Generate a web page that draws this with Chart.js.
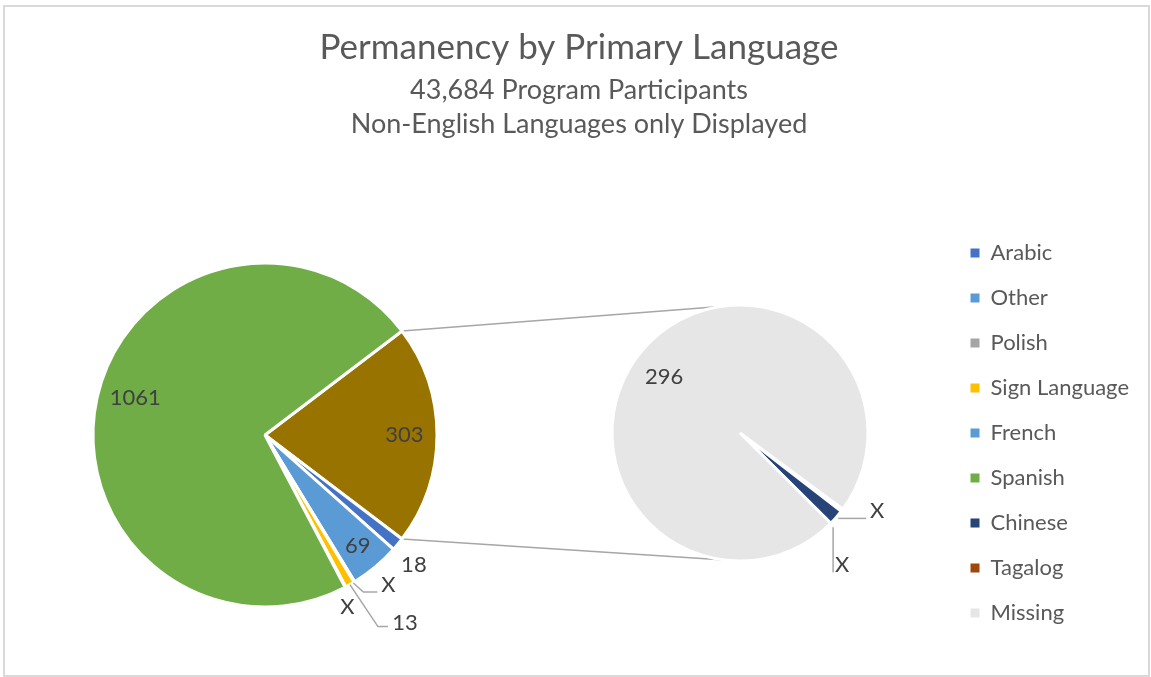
<!DOCTYPE html>
<html>
<head>
<meta charset="utf-8">
<title>Permanency by Primary Language</title>
<script src="https://cdn.jsdelivr.net/npm/chart.js@4.4.1/dist/chart.umd.min.js"></script>
<style>
  body { margin: 0; background: #fff; overflow: hidden; }
  #wrap { position: relative; width: 1151px; height: 677px; }
  #frame { position: absolute; left: 3px; top: 5px; width: 1147px; height: 672px; border: 2px solid #D9D9D9; box-sizing: border-box; }
  canvas { position: absolute; left: 0; top: 0; }
</style>
</head>
<body>
<div id="wrap">
  <div id="frame"></div>
  <canvas id="main" width="1151" height="677"></canvas>
  <canvas id="sub" width="1151" height="677"></canvas>
</div>
<script>
// Main pie, clockwise starting with the slice that gets split out into the second pie
const mainLabels = ['Other languages', 'Arabic', 'Other', 'Polish', 'Sign Language', 'French', 'Spanish'];
const mainValues = [303, 18, 69, 1, 13, 1, 1061];
const mainShown = ['303', '18', '69', 'X', '13', 'X', '1061'];   // X = suppressed small count

// Second pie: what the 303 slice is made of
const subLabels = ['Tagalog', 'Chinese', 'Missing'];
const subValues = [1, 6, 296];
const subShown = ['X', 'X', '296'];

const legendNames = ['Arabic', 'Other', 'Polish', 'Sign Language', 'French', 'Spanish', 'Chinese', 'Tagalog', 'Missing'];

const colors = {
  'Other languages': '#997300',
  'Arabic': '#4472C4',
  'Other': '#5B9BD5',
  'Polish': '#A5A5A5',
  'Sign Language': '#FFC000',
  'French': '#5B9BD5',
  'Spanish': '#70AD47',
  'Chinese': '#264478',
  'Tagalog': '#9E480E',
  'Missing': '#E6E6E6'
};

const FONT = 'Lato, "Open Sans", sans-serif';
const TEXT = '#595959';
const LINE = '#A6A6A6';

// pin the pie to a fixed spot on the canvas (overrides the chart area after layout)
const pinArea = {
  id: 'pinArea',
  afterLayout(chart, args, o) {
    Object.assign(chart.chartArea, {
      left: o.x - o.r, right: o.x + o.r, top: o.y - o.r, bottom: o.y + o.r,
      width: o.r * 2, height: o.r * 2
    });
  }
};

// data labels: inside the slice (at = fraction of radius), or off the rim with an optional leader line
function sliceLabels(text, place) {
  return {
    id: 'sliceLabels',
    afterDatasetsDraw(chart) {
      const ctx = chart.ctx;
      ctx.save();
      ctx.font = '22px ' + FONT;
      ctx.fillStyle = '#404040';
      ctx.textAlign = 'center';
      ctx.textBaseline = 'middle';
      ctx.strokeStyle = LINE;
      ctx.lineWidth = 1.5;
      chart.getDatasetMeta(0).data.forEach((arc, i) => {
        const p = place[i];
        const { x, y, startAngle, endAngle, outerRadius } = arc.getProps(['x', 'y', 'startAngle', 'endAngle', 'outerRadius'], true);
        const mid = (startAngle + endAngle) / 2;
        const f = p.at || 1;
        const bx = x + Math.cos(mid) * outerRadius * f;
        const by = y + Math.sin(mid) * outerRadius * f;
        if (p.leader) {
          ctx.beginPath();
          p.leader.forEach(([dx, dy], k) => k ? ctx.lineTo(bx + dx, by + dy) : ctx.moveTo(bx + dx, by + dy));
          ctx.stroke();
        }
        const off = p.off || [0, 0];
        ctx.fillText(text[i], bx + off[0], by + off[1]);
      });
      ctx.restore();
    }
  };
}

// second pie (made first so the main chart can find it)
const subChart = new Chart(document.getElementById('sub'), {
  type: 'pie',
  data: {
    labels: subLabels,
    datasets: [{
      data: subValues,
      backgroundColor: subLabels.map(n => colors[n]),
      borderColor: '#ffffff',
      borderWidth: 3
    }]
  },
  options: {
    responsive: false,
    animation: false,
    events: [],
    rotation: 126.5,
    layout: { padding: { top: 189, right: 12 } },
    plugins: {
      tooltip: { enabled: false },
      legend: {
        position: 'right',
        onClick: null,
        labels: {
          boxWidth: 9,
          boxHeight: 9,
          padding: 23,
          color: TEXT,
          font: { family: FONT, size: 22 },
          generateLabels: () => legendNames.map(n => ({
            text: n, fillStyle: colors[n], strokeStyle: colors[n], lineWidth: 0, hidden: false, fontColor: TEXT
          }))
        }
      },
      pinArea: { x: 740, y: 433, r: 129.5 }
    }
  },
  plugins: [pinArea, sliceLabels(subShown, [
    { leader: [[-9, 17], [-9, 62]], off: [0, 55] },
    { leader: [[2, 1], [30, 1]], off: [41, -6] },
    { at: 0.73, off: [-5, 5] }
  ])]
});

// lines from the split slice to the top and bottom of the second pie
const connectors = {
  id: 'connectors',
  beforeDatasetsDraw(chart) {
    const big = chart.getDatasetMeta(0).data[0];
    const small = subChart.getDatasetMeta(0).data[0];
    const r = big.outerRadius;
    const ctx = chart.ctx;
    ctx.save();
    ctx.strokeStyle = LINE;
    ctx.lineWidth = 1.5;
    ctx.beginPath();
    ctx.moveTo(big.x + Math.cos(big.startAngle) * r, big.y + Math.sin(big.startAngle) * r);
    ctx.lineTo(small.x, small.y - small.outerRadius);
    ctx.moveTo(big.x + Math.cos(big.endAngle) * r, big.y + Math.sin(big.endAngle) * r);
    ctx.lineTo(small.x, small.y + small.outerRadius);
    ctx.stroke();
    ctx.restore();
  }
};

new Chart(document.getElementById('main'), {
  type: 'pie',
  data: {
    labels: mainLabels,
    datasets: [{
      data: mainValues,
      backgroundColor: mainLabels.map(n => colors[n]),
      borderColor: '#ffffff',
      borderWidth: 3
    }]
  },
  options: {
    responsive: false,
    animation: false,
    events: [],
    rotation: 52.8,
    layout: { padding: { left: 7 } },
    plugins: {
      legend: { display: false },
      tooltip: { enabled: false },
      title: {
        display: true,
        text: 'Permanency by Primary Language',
        color: TEXT,
        font: { family: FONT, size: 35, weight: 'normal', lineHeight: 1 },
        padding: { top: 30, bottom: 0 }
      },
      subtitle: {
        display: true,
        text: ['43,684 Program Participants', 'Non-English Languages only Displayed'],
        color: TEXT,
        font: { family: FONT, size: 27, lineHeight: 1.24 },
        padding: { top: 9, bottom: 0 }
      },
      pinArea: { x: 265, y: 435, r: 173.5 }
    }
  },
  plugins: [pinArea, connectors, sliceLabels(mainShown, [
    { at: 0.81 },
    { off: [16, 21] },
    { at: 0.84 },
    { leader: [[-1, 1], [9, 10], [23, 10]], off: [34, 3] },
    { leader: [[0, 0], [28, 42], [38, 42]], off: [55, 38] },
    { off: [2, 20] },
    { at: 0.79, off: [3, -8] }
  ])]
});
</script>
</body>
</html>
